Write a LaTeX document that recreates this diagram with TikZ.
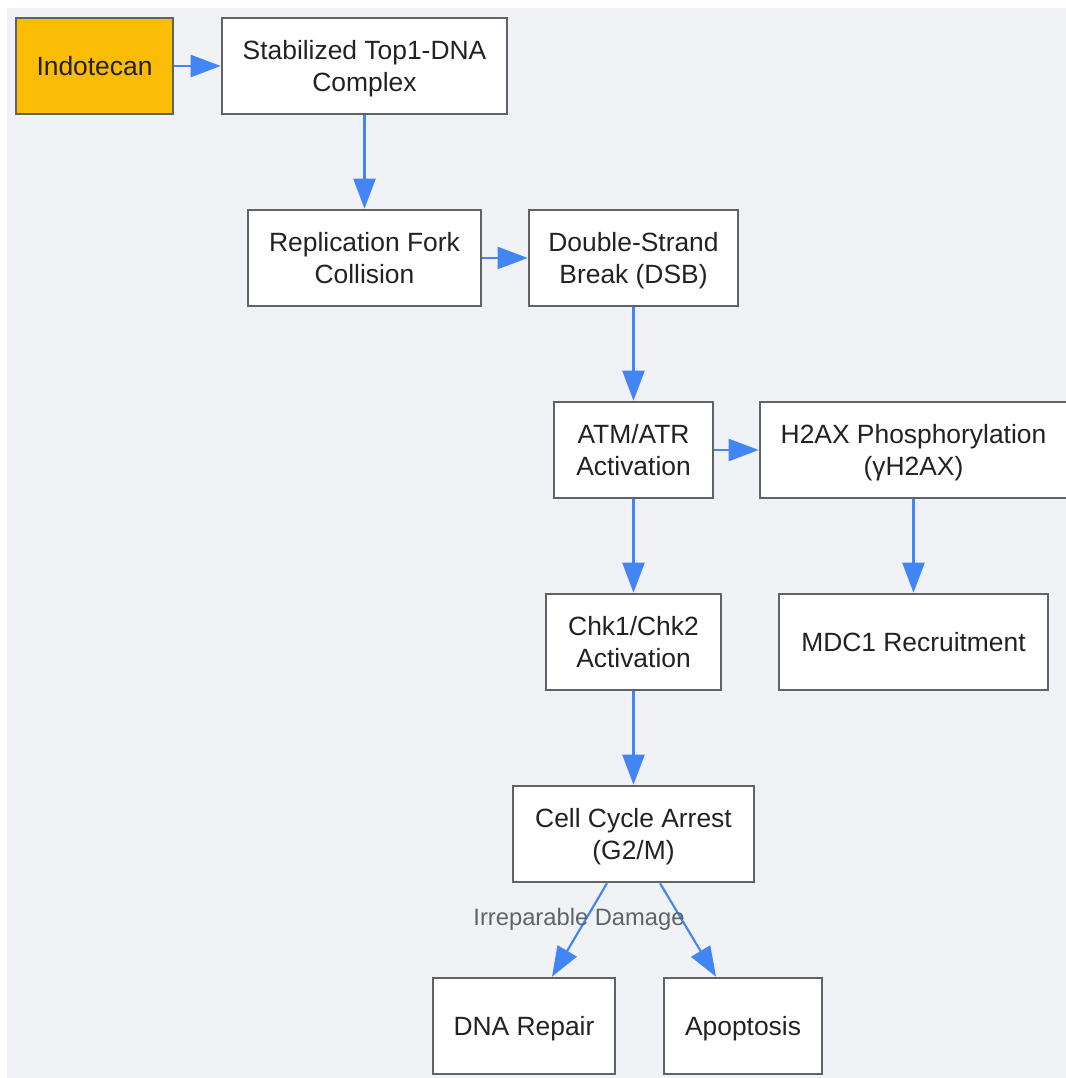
\documentclass[tikz,border=0pt]{standalone}
\usepackage{fontspec}
\setmainfont{Liberation Sans}
\usetikzlibrary{arrows.meta}
\definecolor{bgc}{HTML}{F0F2F5}
\definecolor{edgec}{HTML}{4285F4}
\definecolor{boxline}{HTML}{5F6368}
\definecolor{gold}{HTML}{FABC05}
\definecolor{txt}{HTML}{222222}
\definecolor{lbl}{HTML}{5F6368}
\newcommand\lnstrut{\rule[-4.8pt]{0pt}{23.8pt}}
\newcommand\twolines[2]{\lnstrut#1\\\lnstrut#2}
\tikzset{
  box/.style={draw=boxline, line width=1.9pt, fill=white, minimum height=72pt, inner sep=0pt,
    align=center, text=txt, font=\fontsize{19.8}{24}\selectfont},
  startbox/.style={box, fill=gold},
  arr/.style={draw=edgec, line width=1.6pt, -{Triangle[length=22.5pt,width=16.5pt]}},
  elabel/.style={text=lbl, font=\fontsize{17.8}{21}\selectfont, inner sep=0pt}
}
\begin{document}
\begin{tikzpicture}[x=0.75pt,y=-0.75pt]
\useasboundingbox (0,0) rectangle (1066,1078);
\begin{scope}
\clip (0,0) rectangle (1066,1078);
\fill[bgc] (7,8) rectangle (1066,1078);
\node[startbox, minimum width=117.75pt] (indo) at (94.5,66) {\lnstrut Indotecan};
\node[box, minimum width=213.75pt] (top1) at (364.5,66) {\twolines{Stabilized Top1-DNA}{Complex}};
\node[box, minimum width=174.75pt] (fork) at (364.5,258) {\twolines{Replication Fork}{Collision}};
\node[box, minimum width=156.75pt] (dsb) at (633.5,258) {\twolines{Double-Strand}{Break (DSB)}};
\node[box, minimum width=119.25pt] (atm) at (633.5,450) {\twolines{ATM/ATR}{Activation}};
\node[box, minimum width=230.25pt] (h2ax) at (913.5,450) {\twolines{H2AX Phosphorylation}{(γH2AX)}};
\node[box, minimum width=131.25pt] (chk) at (633.5,642) {\twolines{Chk1/Chk2}{Activation}};
\node[box, minimum width=201.75pt] (mdc) at (913.5,642) {\lnstrut MDC1 Recruitment};
\node[box, minimum width=180.75pt] (cell) at (633.5,834) {\twolines{Cell Cycle Arrest}{(G2/M)}};
\node[box, minimum width=136.5pt] (repair) at (524,1026) {\lnstrut DNA Repair};
\node[box, minimum width=118.5pt] (apo) at (743,1026) {\lnstrut Apoptosis};
\draw[arr] (indo) -- (top1);
\draw[arr] (top1) -- (top1 |- fork.north);
\draw[arr] (fork) -- (dsb);
\draw[arr] (dsb) -- (atm);
\draw[arr] (atm) -- (h2ax.west |- atm.east);
\draw[arr] (atm) -- (chk);
\draw[arr] (h2ax) -- (h2ax |- mdc.north);
\draw[arr] (chk) -- (cell);
\draw[arr] ([xshift=-19.9pt]cell.south) -- ([xshift=21pt]repair.north);
\draw[arr] ([xshift=19.9pt]cell.south) -- ([xshift=-20.25pt]apo.north);
\node[elabel] (dmg) at (579,919.5) {Irreparable Damage};
\end{scope}
\end{tikzpicture}
\end{document}
